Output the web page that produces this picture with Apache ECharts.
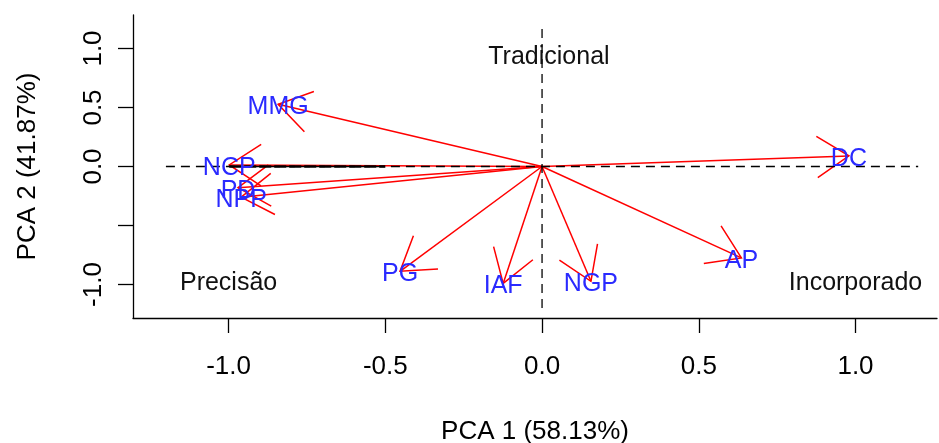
<!DOCTYPE html>
<html>
<head>
<meta charset="utf-8">
<script src="https://cdn.jsdelivr.net/npm/echarts@6/dist/echarts.min.js"></script>
<style>html,body{margin:0;padding:0;background:#fff;}#c{width:939px;height:443px;}</style>
</head>
<body>
<div id="c"></div>
<script>
// Variable loadings (arrow tips)
const varNames = ['MMG', 'NCP', 'PD', 'NPP', 'PG', 'IAF', 'NGP', 'AP', 'DC'];
const pc1 = [-0.842, -0.998, -0.97, -0.96, -0.453, -0.124, 0.156, 0.636, 0.979];
const pc2 = [0.527, 0.013, -0.18, -0.26, -0.888, -0.991, -0.973, -0.775, 0.09];

// Quadrant annotations
const quadLabels = ['Tradicional', 'Precisão', 'Incorporado'];
const quadX = [0.022, -1.0, 1.0];
const quadY = [0.93, -0.99, -0.99];

// Reference lines
const hLine = [[-1.2, 0], [1.2, 0]];
const vLine = [[0, -1.2], [0, 1.2]];
const boldSeg = [[-0.998, 0], [-0.5, 0]];

// Ticks
const xTicks = [-1.0, -0.5, 0.0, 0.5, 1.0];
const yTicks = [-1.0, -0.5, 0.0, 0.5, 1.0];
const yTickLabels = [-1.0, 0.0, 0.5, 1.0];

const xTitle = 'PCA 1 (58.13%)';
const yTitle = 'PCA 2 (41.87%)';

const FONT = "'Liberation Sans', Arial, sans-serif";
const chart = echarts.init(document.getElementById('c'), null, {renderer: 'canvas'});

const arrowData = varNames.map((n, i) => [pc1[i], pc2[i]]);
const quadData = quadLabels.map((n, i) => [quadX[i], quadY[i]]);

function arrowItem(params, api) {
  const o = api.coord([0, 0]);
  const t = api.coord([api.value(0), api.value(1)]);
  const dx = o[0] - t[0], dy = o[1] - t[1];
  const L = Math.hypot(dx, dy) || 1;
  const ux = dx / L, uy = dy / L;
  const hl = 38, ang = 33 * Math.PI / 180;
  const rot = a => [t[0] + hl * (ux * Math.cos(a) - uy * Math.sin(a)),
                    t[1] + hl * (ux * Math.sin(a) + uy * Math.cos(a))];
  const h1 = rot(ang), h2 = rot(-ang);
  return {
    type: 'group',
    children: [
      {type: 'line', shape: {x1: o[0], y1: o[1], x2: t[0], y2: t[1]}, style: {stroke: '#ff0000', lineWidth: 1.5}},
      {type: 'polyline', shape: {points: [h1, t, h2]}, style: {stroke: '#ff0000', fill: null, lineWidth: 1.5}}
    ]
  };
}

function textItem(names, color, size, dy) {
  return function (params, api) {
    const p = api.coord([api.value(0), api.value(1)]);
    return {
      type: 'text',
      x: p[0], y: p[1] + dy,
      style: {
        text: names[params.dataIndex],
        fill: color, fontSize: size, fontFamily: FONT,
        align: 'center', verticalAlign: 'middle'
      }
    };
  };
}

const option = {
  backgroundColor: '#ffffff',
  animation: false,
  grid: {left: 133, top: 15, width: 804, height: 303, containLabel: false, outerBoundsMode: 'none'},
  xAxis: {
    type: 'value', min: -1.305, max: 1.26,
    axisLine: {show: true, onZero: false, lineStyle: {color: '#000', width: 1.3}},
    axisTick: {show: true, length: 15, customValues: xTicks, lineStyle: {color: '#000', width: 1.3}},
    axisLabel: {show: true, customValues: xTicks, margin: 36, color: '#000', fontSize: 26, fontFamily: FONT,
      formatter: v => Number(v).toFixed(1)},
    splitLine: {show: false},
    name: xTitle, nameLocation: 'middle', nameGap: 101,
    nameTextStyle: {color: '#000', fontSize: 26, fontFamily: FONT}
  },
  yAxis: {
    type: 'value', min: -1.284, max: 1.284,
    axisLine: {show: true, onZero: false, lineStyle: {color: '#000', width: 1.3}},
    axisTick: {show: true, length: 15, customValues: yTicks, lineStyle: {color: '#000', width: 1.3}},
    axisLabel: {show: true, customValues: yTickLabels, rotate: 90, margin: 26, color: '#000', fontSize: 26, fontFamily: FONT,
      formatter: v => Number(v).toFixed(1)},
    splitLine: {show: false},
    name: yTitle, nameLocation: 'middle', nameGap: 92, nameRotate: 90,
    nameTextStyle: {color: '#000', fontSize: 26, fontFamily: FONT}
  },
  series: [
    {type: 'custom', renderItem: arrowItem, data: arrowData, z: 3, silent: true, clip: false},
    {type: 'line', data: hLine, symbol: 'none', lineStyle: {color: '#000', width: 1.3, type: [9, 6]}, z: 4, silent: true},
    {type: 'line', data: vLine, symbol: 'none', lineStyle: {color: '#000', width: 1.3, type: [9, 6]}, z: 4, silent: true},
    {type: 'line', data: boldSeg, symbol: 'none', lineStyle: {color: '#000', width: 2.4, type: [12, 3]}, z: 4, silent: true},
    {type: 'custom', renderItem: textItem(varNames, '#2a2aff', 25, 3), data: arrowData, z: 5, silent: true, clip: false},
    {type: 'custom', renderItem: textItem(quadLabels, '#111111', 25, 0), data: quadData, z: 5, silent: true, clip: false}
  ]
};
chart.setOption(option);
</script>
</body>
</html>
